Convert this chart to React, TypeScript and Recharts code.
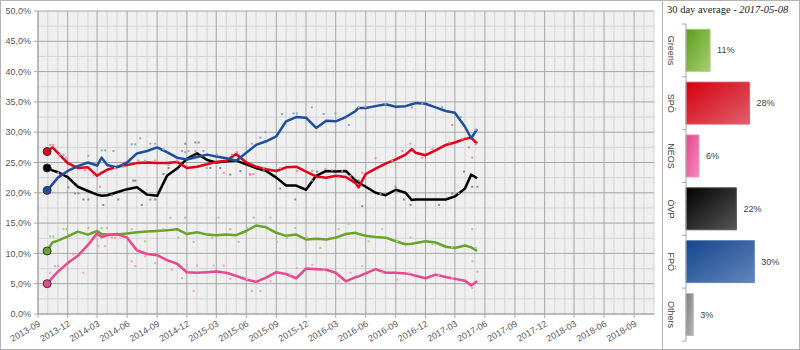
import { ComposedChart, Line, Scatter, XAxis, YAxis, CartesianGrid, BarChart, Bar, Cell, LabelList } from "recharts";

// smoothed poll average at roughly monthly steps
const pollDates = [
  "2013-09-29", "2013-10-15", "2013-11-01", "2013-12-01", "2014-01-01", "2014-02-01", "2014-03-01",
  "2014-03-15", "2014-04-01", "2014-05-01", "2014-06-01", "2014-07-01", "2014-08-01", "2014-09-01",
  "2014-10-01", "2014-11-01", "2014-12-01", "2015-01-01", "2015-02-01", "2015-03-01", "2015-04-01",
  "2015-05-01", "2015-06-01", "2015-07-01", "2015-08-01", "2015-09-01", "2015-10-01", "2015-11-01",
  "2015-12-01", "2016-01-01", "2016-02-01", "2016-03-01", "2016-04-01", "2016-05-01", "2016-05-10",
  "2016-06-01", "2016-07-01", "2016-08-01", "2016-09-01", "2016-10-01", "2016-10-20", "2016-11-01",
  "2016-12-01", "2017-01-01", "2017-02-01", "2017-03-01", "2017-04-01", "2017-04-20", "2017-05-08",
];

const spo = [
  26.8, 27.5, 26.6, 24.9, 24.1, 24.2, 22.8, 23.3, 23.8, 24.3, 24.6, 24.9, 25.0, 24.9, 24.9, 25.1, 24.1,
  24.3, 24.7, 25.1, 25.3, 26.4, 25.0, 24.3, 23.9, 23.6, 24.2, 24.3, 23.5, 22.7, 22.5, 22.8, 22.6, 21.6,
  20.9, 23.1, 24.0, 24.8, 25.5, 26.3, 27.2, 26.6, 26.2, 27.0, 27.9, 28.3, 28.9, 29.1, 28.1,
];
const fpo = [
  20.4, 21.4, 22.5, 23.6, 24.4, 25.0, 24.5, 25.8, 24.6, 24.2, 25.0, 26.5, 26.9, 27.5, 26.7, 25.8, 25.5,
  25.9, 26.3, 26.0, 25.7, 25.3, 26.6, 27.9, 28.5, 29.3, 31.8, 32.5, 32.4, 30.7, 31.9, 31.8, 32.5, 33.5,
  34.0, 34.0, 34.3, 34.6, 34.2, 34.3, 34.6, 34.8, 34.7, 34.1, 33.5, 33.2, 30.9, 29.0, 30.5,
];
const ovp = [
  24.1, 23.7, 23.4, 22.6, 21.0, 20.3, 19.7, 19.5, 19.6, 20.1, 20.6, 20.9, 19.7, 19.5, 22.8, 24.0, 25.6,
  26.5, 25.4, 25.0, 25.2, 25.3, 24.7, 24.1, 23.6, 22.5, 21.2, 21.2, 20.5, 22.8, 23.6, 23.5, 23.6, 22.0,
  21.7, 21.0, 20.0, 19.6, 20.5, 20.0, 18.8, 18.9, 18.9, 18.9, 18.9, 19.4, 20.7, 23.0, 22.4,
];
const greens = [
  10.4, 11.8, 12.1, 12.8, 13.6, 13.1, 13.7, 13.2, 13.1, 13.1, 13.3, 13.5, 13.6, 13.7, 13.8, 14.0, 13.2,
  13.5, 13.1, 13.0, 13.1, 13.0, 13.7, 14.6, 14.3, 13.4, 12.9, 13.1, 12.3, 12.4, 12.3, 12.6, 13.2, 13.4,
  13.2, 12.9, 12.7, 12.6, 12.0, 11.5, 11.6, 11.7, 12.0, 11.8, 11.1, 10.9, 11.3, 11.0, 10.4,
];
const neos = [
  5.0, 6.0, 7.0, 8.4, 9.6, 11.4, 13.3, 12.7, 13.0, 13.2, 12.6, 10.5, 9.9, 9.7, 8.9, 8.3, 6.9,
  6.8, 6.9, 7.0, 6.8, 6.3, 5.7, 5.3, 6.0, 6.9, 6.6, 5.9, 7.5, 7.4, 7.3, 6.8, 5.4, 6.1,
  6.2, 6.7, 7.4, 6.8, 6.8, 6.7, 6.5, 6.3, 5.9, 6.5, 6.1, 5.8, 5.5, 4.7, 5.4,
];

// single polls (the faint dots)
const fpoPollDates = [
  "2013-11-07", "2013-11-18", "2014-02-02", "2014-03-15", "2014-03-26", "2014-04-20", "2014-06-15", "2014-06-26",
  "2014-07-11", "2014-08-11", "2014-08-26", "2014-09-20", "2014-11-16", "2014-11-26", "2015-01-21", "2015-03-03",
  "2015-04-18", "2015-06-18", "2015-07-14", "2015-07-29", "2015-09-18", "2015-10-24", "2015-11-03", "2015-12-19",
  "2016-01-24", "2016-02-29", "2016-04-10", "2016-05-11", "2016-05-31", "2016-07-31", "2016-08-31", "2016-10-21",
  "2016-11-21", "2017-01-21", "2017-02-21", "2017-03-19", "2017-04-13", "2017-05-04",
];
const fpoPolls = [
  26.3, 26.3, 26.1, 27.0, 27.0, 26.9, 28.0, 28.0, 29.0, 28.1, 28.1, 27.2, 26.9, 26.7, 26.9, 26.3,
  26.3, 28.1, 29.1, 30.0, 33.0, 33.1, 33.1, 34.1, 33.0, 33.1, 31.2, 34.1, 34.2, 34.7, 34.9, 34.1,
  34.7, 34.1, 31.2, 32.5, 27.5, 30.4,
];
const spoPollDates = [
  "2013-10-08", "2013-10-18", "2013-11-02", "2013-11-28", "2014-01-23", "2014-02-18", "2014-03-10", "2014-04-25",
  "2014-05-21", "2014-07-06", "2014-07-26", "2014-08-26", "2014-10-06", "2014-10-31", "2014-12-06", "2014-12-27",
  "2015-01-31", "2015-03-24", "2015-05-03", "2015-06-13", "2015-06-23", "2015-07-24", "2015-09-13", "2015-11-03",
  "2015-12-20", "2016-01-29", "2016-03-10", "2016-04-15", "2016-05-21", "2016-07-01", "2016-08-21", "2016-09-21",
  "2016-10-16", "2016-11-21", "2016-12-22", "2017-02-11", "2017-03-24", "2017-04-23", "2017-05-04",
];
const spoPolls = [
  27.9, 27.9, 23.3, 25.8, 23.7, 22.9, 21.0, 24.1, 24.3, 25.3, 25.3, 25.3, 24.6, 25.3, 26.9, 26.9,
  24.1, 23.3, 26.7, 23.1, 23.1, 24.1, 24.1, 23.6, 23.6, 23.9, 22.5, 22.8, 23.3, 25.7, 25.3, 26.9,
  28.1, 25.8, 27.2, 28.3, 28.9, 25.8, 28.0,
];
const ovpPollDates = [
  "2013-12-03", "2013-12-23", "2014-01-03", "2014-01-18", "2014-02-02", "2014-03-20", "2014-04-15", "2014-05-05",
  "2014-06-20", "2014-06-26", "2014-07-16", "2014-08-11", "2014-08-26", "2014-09-20", "2014-10-06", "2014-11-16",
  "2014-11-26", "2014-12-27", "2015-01-06", "2015-02-11", "2015-03-13", "2015-04-13", "2015-05-14", "2015-06-13",
  "2015-07-24", "2015-09-13", "2015-10-29", "2015-12-20", "2016-01-04", "2016-02-19", "2016-03-21", "2016-05-11",
  "2016-05-21", "2016-07-16", "2016-08-31", "2016-09-26", "2016-10-16", "2017-01-11", "2017-02-21", "2017-03-13",
  "2017-03-29", "2017-04-23", "2017-05-09",
];
const ovpPolls = [
  20.9, 19.9, 19.9, 18.9, 18.9, 18.0, 19.6, 18.9, 22.0, 22.0, 18.0, 18.9, 18.9, 23.1, 24.1, 26.9,
  28.1, 28.3, 28.3, 24.1, 24.1, 23.0, 23.6, 23.0, 23.6, 20.7, 18.9, 22.0, 23.5, 23.7, 23.6, 22.0,
  17.8, 19.8, 21.0, 18.9, 18.0, 18.0, 19.9, 19.9, 23.5, 21.0, 21.0,
];
const greensPollDates = [
  "2013-10-08", "2013-10-18", "2013-11-18", "2013-11-28", "2014-02-02", "2014-03-15", "2014-03-31", "2014-04-15",
  "2014-06-15", "2014-07-26", "2014-09-20", "2014-10-11", "2014-11-05", "2014-11-26", "2014-12-22", "2015-02-16",
  "2015-03-08", "2015-04-13", "2015-05-09", "2015-06-03", "2015-06-24", "2015-08-14", "2015-09-03", "2015-10-04",
  "2015-10-29", "2015-12-04", "2016-01-14", "2016-03-10", "2016-04-10", "2016-06-10", "2016-07-21", "2016-09-05",
  "2016-10-16", "2016-12-22", "2017-02-21", "2017-04-23", "2017-04-24", "2017-05-04",
];
const greensPolls = [
  12.8, 12.8, 14.0, 14.0, 14.2, 14.2, 14.2, 12.6, 14.0, 12.0, 14.0, 15.9, 12.6, 15.9, 11.9, 12.6,
  15.9, 14.0, 11.9, 14.2, 15.9, 15.9, 11.9, 12.6, 14.2, 12.6, 10.9, 14.0, 14.9, 12.0, 14.0, 12.0,
  12.6, 11.5, 11.0, 14.0, 8.7, 10.9,
];
const neosPollDates = [
  "2013-10-08", "2013-10-23", "2013-11-02", "2013-12-18", "2014-01-18", "2014-03-05", "2014-03-26", "2014-04-25",
  "2014-06-15", "2014-06-26", "2014-07-26", "2014-08-26", "2014-10-16", "2014-11-16", "2014-12-01", "2014-12-22",
  "2015-01-01", "2015-02-21", "2015-03-24", "2015-04-13", "2015-06-03", "2015-06-18", "2015-07-14", "2015-08-14",
  "2015-10-14", "2015-11-03", "2015-12-20", "2016-01-24", "2016-03-10", "2016-04-15", "2016-05-21", "2016-07-21",
  "2016-09-05", "2016-10-11", "2017-01-11", "2017-02-21", "2017-04-23", "2017-05-09",
];
const neosPolls = [
  6.8, 7.9, 7.9, 9.8, 6.8, 11.2, 11.2, 12.6, 8.7, 7.9, 9.5, 8.4, 7.3, 5.9, 8.1, 3.8,
  8.0, 8.0, 8.0, 5.8, 5.8, 3.8, 3.8, 5.4, 6.5, 7.6, 8.1, 7.3, 5.4, 6.8, 7.9, 6.8,
  5.7, 6.8, 6.5, 5.9, 4.3, 7.0,
];

// 30 day average panel
const barParties = ["Greens", "SPÖ", "NEOS", "ÖVP", "FPÖ", "Others"];
const barValues = [10.6, 28.0, 5.7, 22.2, 30.1, 3.2];
const barColors = [
  ["#5f9d1e", "#a6cf72"],
  ["#d6000f", "#e0606c"],
  ["#e6458c", "#f28dbb"],
  ["#000000", "#575757"],
  ["#16468f", "#6286bb"],
  ["#7a7a7a", "#b8b8b8"],
];

const xTickLabels = [
  "2013-09", "2013-12", "2014-03", "2014-06", "2014-09", "2014-12", "2015-03", "2015-06", "2015-09",
  "2015-12", "2016-03", "2016-06", "2016-09", "2016-12", "2017-03", "2017-06", "2017-09", "2017-12",
  "2018-03", "2018-06", "2018-09",
];
const yTicks = [0, 5, 10, 15, 20, 25, 30, 35, 40, 45, 50];
const yMinor = [2.5, 7.5, 12.5, 17.5, 22.5, 27.5, 32.5, 37.5, 42.5, 47.5];

const toTime = (s: string) => Date.parse(s.length === 7 ? s + "-01" : s);

const xStart = toTime("2013-09");
const xEnd = toTime("2018-11");

// monthly grid lines
const gridMonths: number[] = [];
for (let y = 2013; y <= 2018; y++) {
  for (let m = 1; m <= 12; m++) {
    const t = Date.UTC(y, m - 1, 1);
    if (t >= xStart && t <= xEnd) gridMonths.push(t);
  }
}
const majorX = xTickLabels.map(toTime);
const minorX = gridMonths.filter((t) => !majorX.includes(t));

const lineData = pollDates.map((d, i) => ({
  t: toTime(d),
  spo: spo[i],
  fpo: fpo[i],
  ovp: ovp[i],
  greens: greens[i],
  neos: neos[i],
}));

const toPolls = (dates: string[], vals: number[]) => dates.map((d, i) => ({ t: toTime(d), v: vals[i] }));

const pollSets = [
  { key: "p-greens", data: toPolls(greensPollDates, greensPolls), color: "#a9cf85" },
  { key: "p-neos", data: toPolls(neosPollDates, neosPolls), color: "#f3a2c6" },
  { key: "p-ovp", data: toPolls(ovpPollDates, ovpPolls), color: "#8c8c8c" },
  { key: "p-spo", data: toPolls(spoPollDates, spoPolls), color: "#f09090" },
  { key: "p-fpo", data: toPolls(fpoPollDates, fpoPolls), color: "#8ca7d6" },
];

const barData = barParties.map((name, i) => ({ name, value: barValues[i] }));

const FONT = "'Liberation Sans', Arial, sans-serif";
const AXIS = "#a6a6a6";

const fmtMonth = (t: number) => {
  const d = new Date(t);
  return `${d.getUTCFullYear()}-${String(d.getUTCMonth() + 1).padStart(2, "0")}`;
};

const startDot = (color: string) => (props: any) => {
  const { cx, cy, index } = props;
  if (index !== 0) return <g key={`e${index}`} />;
  return <circle key={`s${index}`} cx={cx} cy={cy} r={4} fill={color} stroke="#3a3a3a" strokeWidth={1} />;
};

const pollDot = (color: string) => (props: any) => (
  <rect x={props.cx - 1} y={props.cy - 1} width={2} height={2} fill={color} />
);

const series = [
  { key: "greens", color: "#6aa32a" },
  { key: "neos", color: "#e8488c" },
  { key: "ovp", color: "#000000" },
  { key: "spo", color: "#e2001a" },
  { key: "fpo", color: "#1f4f9c" },
];

const BAND = 317 / 6;

const PartyTick = (props: any) => {
  const { x, y, payload, index } = props;
  const lx = x - 15;
  return (
    <g>
      <line x1={x - 4} x2={x} y1={y - BAND / 2} y2={y - BAND / 2} stroke={AXIS} />
      {index === barParties.length - 1 && (
        <line x1={x - 4} x2={x} y1={y + BAND / 2} y2={y + BAND / 2} stroke={AXIS} />
      )}
      <text
        x={lx}
        y={y}
        transform={`rotate(90, ${lx}, ${y})`}
        textAnchor="middle"
        dominantBaseline="central"
        fontSize={9}
        fill="#404040"
        fontFamily={FONT}
      >
        {payload.value}
      </text>
    </g>
  );
};

export default function App() {
  return (
    <div
      style={{
        position: "absolute",
        left: 0,
        top: 0,
        width: 800,
        height: 350,
        boxSizing: "border-box",
        border: "1px solid #b4b4b4",
        background: "#fff",
        fontFamily: FONT,
      }}
    >
      <div style={{ position: "absolute", left: 0, top: 0 }}>
        <ComposedChart width={662} height={348} data={lineData} margin={{ top: 10, right: 9, bottom: 0, left: 0 }}>
          <CartesianGrid fill="#efefef" stroke="#d4d4d4" horizontalValues={yMinor} verticalValues={minorX} />
          <CartesianGrid stroke={AXIS} horizontalValues={yTicks} verticalValues={majorX} />
          <XAxis
            type="number"
            dataKey="t"
            domain={[xStart, xEnd]}
            ticks={majorX}
            tickFormatter={fmtMonth}
            interval={0}
            height={35}
            angle={-30}
            textAnchor="end"
            tickSize={4}
            tickMargin={2}
            stroke={AXIS}
            tick={{ fontSize: 9, fill: "#595959", fontFamily: FONT }}
          />
          <YAxis
            domain={[0, 50]}
            ticks={yTicks}
            width={37}
            interval={0}
            tickSize={4}
            tickMargin={3}
            stroke={AXIS}
            tickFormatter={(v: number) => `${v.toFixed(1).replace(".", ",")}%`}
            tick={{ fontSize: 9, fill: "#595959", fontFamily: FONT }}
          />
          {pollSets.map((p) => (
            <Scatter
              key={p.key}
              data={p.data}
              dataKey="v"
              shape={pollDot(p.color)}
              isAnimationActive={false}
            />
          ))}
          {series.map((s) => (
            <Line
              key={s.key}
              type="linear"
              dataKey={s.key}
              stroke={s.color}
              strokeWidth={2.5}
              strokeLinejoin="round"
              dot={startDot(s.color)}
              activeDot={false}
              isAnimationActive={false}
            />
          ))}
        </ComposedChart>
      </div>

      <div style={{ position: "absolute", left: 661, top: 0, width: 1, height: 348, background: "#b4b4b4" }} />

      <div
        style={{
          position: "absolute",
          left: 666,
          top: 3,
          fontFamily: "'Liberation Serif', serif",
          fontSize: 10.5,
          color: "#222",
          whiteSpace: "nowrap",
        }}
      >
        30 day average - <i>2017-05-08</i>
      </div>

      <div style={{ position: "absolute", left: 662, top: 0 }}>
        <BarChart
          layout="vertical"
          width={136}
          height={348}
          data={barData}
          margin={{ top: 23, right: 4, bottom: 8, left: 0 }}
          barCategoryGap="10%"
        >
          <defs>
            {barColors.map((c, i) => (
              <linearGradient key={i} id={`bg${i}`} x1="0" y1="0" x2="1" y2="1">
                <stop offset="0%" stopColor={c[0]} />
                <stop offset="100%" stopColor={c[1]} />
              </linearGradient>
            ))}
          </defs>
          <XAxis type="number" domain={[0, 48]} hide />
          <YAxis
            type="category"
            dataKey="name"
            width={23}
            interval={0}
            tickLine={false}
            tickSize={0}
            tickMargin={0}
            axisLine={{ stroke: AXIS }}
            tick={<PartyTick />}
          />
          <Bar dataKey="value" isAnimationActive={false}>
            {barData.map((d, i) => (
              <Cell key={d.name} fill={`url(#bg${i})`} stroke={barColors[i][1]} strokeWidth={1} />
            ))}
            <LabelList
              dataKey="value"
              position="right"
              offset={7}
              formatter={(v: any) => `${Math.round(Number(v))}%`}
              style={{ fontSize: 9, fill: "#404040", fontFamily: FONT }}
            />
          </Bar>
        </BarChart>
      </div>
    </div>
  );
}
